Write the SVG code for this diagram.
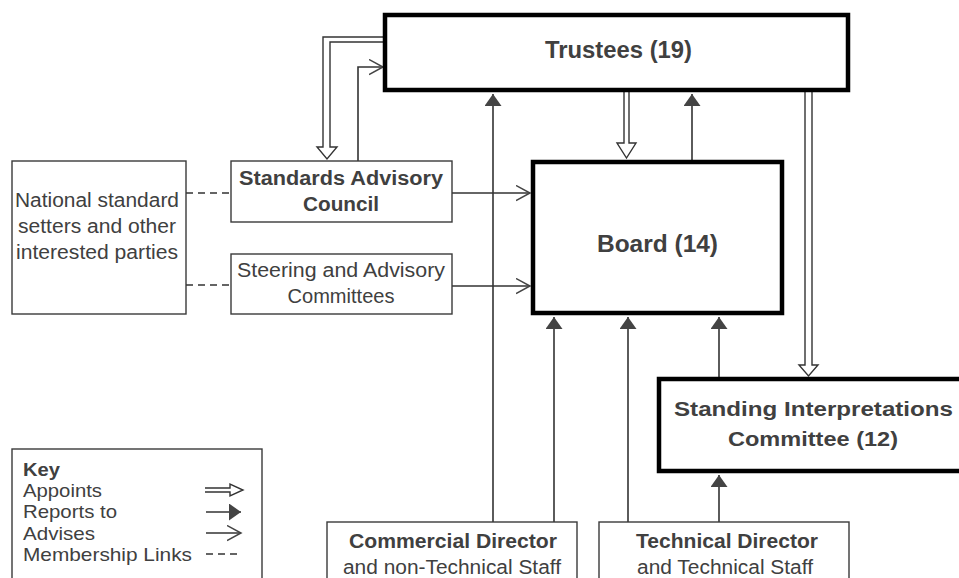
<svg xmlns="http://www.w3.org/2000/svg" width="959" height="578" viewBox="0 0 959 578">
<style>
  .thin { fill: #ffffff; stroke: #3a3a3a; stroke-width: 1.4; }
  .thick { fill: #ffffff; stroke: #000000; stroke-width: 4.5; }
  text { font-family: "Liberation Sans", Arial, sans-serif; fill: #404040; }
  .t { font-size: 19.5px; text-anchor: middle; }
  .b { font-weight: bold; }
  .big { font-size: 23.5px; font-weight: bold; text-anchor: middle; }
  .k { font-size: 18.5px; }
  .ln { fill: none; stroke: #333333; stroke-width: 1.6; }
  .app { fill: #ffffff; stroke: #333333; stroke-width: 1.4; }
  .dash { fill: none; stroke: #333333; stroke-width: 1.6; stroke-dasharray: 7 5; }
  .rep { marker-end: url(#mRep); }
  .adv { marker-end: url(#mAdv); }
</style>
<defs>
  <marker id="mRep" markerUnits="userSpaceOnUse" markerWidth="13" markerHeight="18" refX="12" refY="8.5" orient="auto" viewBox="0 0 13 18">
    <path d="M0,0 L12,8.5 L0,17 Z" fill="#444444"/>
  </marker>
  <marker id="mAdv" markerUnits="userSpaceOnUse" markerWidth="16" markerHeight="18" refX="14" refY="8" orient="auto" viewBox="0 0 16 18">
    <path d="M0,0.5 L14,8 L0,15.5" fill="none" stroke="#444444" stroke-width="1.5"/>
  </marker>
</defs>

<g id="connectors">
  <path class="app" d="M385,37 H323 V147 H317 L327,159 L337,147 H330 V42 H385"/>
  <path class="ln adv" d="M358,161 V67 H383"/>
  <path class="ln rep" d="M493,522 V94"/>
  <path class="app" d="M624,92 V143 H617 L626.5,158 L636,143 H629 V92"/>
  <path class="ln rep" d="M692,160 V94"/>
  <path class="app" d="M805,92 V365 H799 L808.5,376 L818,365 H812 V92"/>
  <path class="ln adv" d="M452,193 H530"/>
  <path class="ln adv" d="M452,286 H530"/>
  <path class="ln rep" d="M554,522 V317"/>
  <path class="ln rep" d="M628,522 V317"/>
  <path class="ln rep" d="M719,377 V317"/>
  <path class="ln rep" d="M719,522 V475"/>
  <path class="dash" d="M186,193 H231"/>
  <path class="dash" d="M186,285 H231"/>
</g>

<g id="trustees">
  <rect class="thick" x="385" y="15" width="463" height="75"/>
  <text class="big" x="618.5" y="58" textLength="147" lengthAdjust="spacingAndGlyphs">Trustees (19)</text>
</g>

<g id="board">
  <rect class="thick" x="533" y="162" width="249" height="151"/>
  <text class="big" x="657.5" y="252" textLength="121" lengthAdjust="spacingAndGlyphs">Board (14)</text>
</g>

<g id="sic">
  <rect class="thick" x="659" y="379" width="310" height="92"/>
  <text class="t b" x="813.5" y="416" textLength="279" lengthAdjust="spacingAndGlyphs">Standing Interpretations</text>
  <text class="t b" x="813" y="446" textLength="170" lengthAdjust="spacingAndGlyphs">Committee (12)</text>
</g>

<g id="national">
  <rect class="thin" x="12" y="161" width="174" height="153"/>
  <text class="t" x="97" y="207" textLength="164" lengthAdjust="spacingAndGlyphs">National standard</text>
  <text class="t" x="97" y="233" textLength="158" lengthAdjust="spacingAndGlyphs">setters and other</text>
  <text class="t" x="97" y="259" textLength="162" lengthAdjust="spacingAndGlyphs">interested parties</text>
</g>

<g id="sac">
  <rect class="thin" x="231" y="161" width="221" height="61"/>
  <text class="t b" x="341" y="185" textLength="204" lengthAdjust="spacingAndGlyphs">Standards Advisory</text>
  <text class="t b" x="341" y="211" textLength="76" lengthAdjust="spacingAndGlyphs">Council</text>
</g>

<g id="steering">
  <rect class="thin" x="231" y="254" width="221" height="60"/>
  <text class="t" x="341" y="277" textLength="208" lengthAdjust="spacingAndGlyphs">Steering and Advisory</text>
  <text class="t" x="341" y="303" textLength="107" lengthAdjust="spacingAndGlyphs">Committees</text>
</g>

<g id="commercial">
  <rect class="thin" x="327" y="522" width="250" height="70"/>
  <text class="t b" x="453" y="548" textLength="208" lengthAdjust="spacingAndGlyphs">Commercial Director</text>
  <text class="t" x="452" y="574" textLength="218" lengthAdjust="spacingAndGlyphs">and non-Technical Staff</text>
</g>

<g id="technical">
  <rect class="thin" x="599" y="522" width="250" height="70"/>
  <text class="t b" x="727" y="548" textLength="182" lengthAdjust="spacingAndGlyphs">Technical Director</text>
  <text class="t" x="725" y="574" textLength="176" lengthAdjust="spacingAndGlyphs">and Technical Staff</text>
</g>

<g id="key">
  <rect class="thin" x="12" y="449" width="250" height="140"/>
  <text class="k b" x="23" y="476" textLength="37" lengthAdjust="spacingAndGlyphs">Key</text>
  <text class="k" x="23" y="497" textLength="79" lengthAdjust="spacingAndGlyphs">Appoints</text>
  <text class="k" x="23" y="518" textLength="94" lengthAdjust="spacingAndGlyphs">Reports to</text>
  <text class="k" x="23" y="540" textLength="72" lengthAdjust="spacingAndGlyphs">Advises</text>
  <text class="k" x="23" y="561" textLength="169" lengthAdjust="spacingAndGlyphs">Membership Links</text>
  <path class="app" d="M205,488 H230 V484 L243,490 L230,496 V492 H205"/>
  <path class="ln rep" d="M206,512 H241"/>
  <path class="ln adv" d="M206,533 H241"/>
  <path class="dash" d="M206,554 H241"/>
</g>
</svg>
